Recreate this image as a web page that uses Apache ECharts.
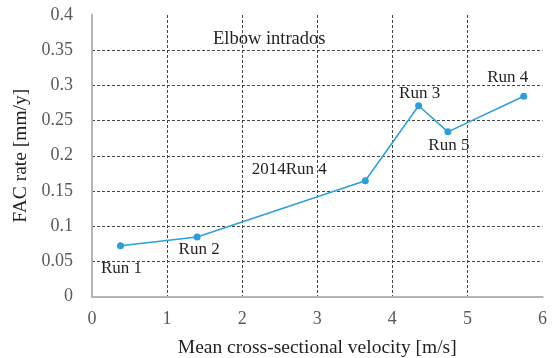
<!DOCTYPE html>
<html>
<head>
<meta charset="utf-8">
<script src="https://cdn.jsdelivr.net/npm/echarts@6/dist/echarts.min.js"></script>
<style>
  html, body { margin: 0; padding: 0; background: #fff; }
  #chart { width: 555px; height: 358px; }
</style>
</head>
<body>
<div id="chart"></div>
<script>
// Mean cross-sectional velocity [m/s] and FAC rate [mm/y] for each run
const velocity = [0.38, 1.40, 3.64, 4.35, 4.74, 5.75];
const facRate = [0.072, 0.0845, 0.1645, 0.271, 0.234, 0.2845];
const runNames = ['Run 1', 'Run 2', '2014Run 4', 'Run 3', 'Run 5', 'Run 4'];

// Where each run name sits relative to its marker (pixels)
const labelOffset = {
  'Run 1': [1, 23],
  'Run 2': [2, 12],
  '2014Run 4': [-76, -11],
  'Run 3': [1, -12],
  'Run 5': [1, 14],
  'Run 4': [-16, -19]
};

const serif = '"Liberation Serif", "DejaVu Serif", serif';
const blue = '#2a9fdb';

const points = velocity.map((v, i) => ({
  value: [v, facRate[i]],
  name: runNames[i],
  label: {
    show: true,
    position: 'inside',
    offset: labelOffset[runNames[i]],
    formatter: runNames[i],
    color: '#231f20',
    fontFamily: serif,
    fontSize: 17
  }
}));

const chart = echarts.init(document.getElementById('chart'), null, { renderer: 'canvas' });

const dashed = { show: true, showMinLine: false, showMaxLine: false,
  lineStyle: { color: '#444', type: [3, 2], width: 1 } };

chart.setOption({
  animation: false,
  grid: { left: 92, right: 12.5, top: 15, bottom: 61.5, containLabel: false, outerBoundsMode: 'none' },
  xAxis: [{
    type: 'value', min: 0, max: 6, interval: 1,
    name: 'Mean cross-sectional velocity [m/s]',
    nameLocation: 'middle', nameGap: 41,
    nameTextStyle: { fontFamily: serif, fontSize: 19.5, color: '#231f20' },
    axisLine: { show: true, onZero: false, lineStyle: { color: '#b4b4b4', width: 2 } },
    axisTick: { show: false },
    axisLabel: { fontFamily: serif, fontSize: 18, color: '#595959', margin: 14 },
    splitLine: dashed,
    z: 3
  }, {
    type: 'value', min: 0, max: 6, interval: 1, position: 'top',
    axisLine: { show: true, lineStyle: { color: '#3a3a3a', width: 1.5 } },
    axisTick: { show: false }, axisLabel: { show: false }, splitLine: { show: false }
  }],
  yAxis: [{
    type: 'value', min: 0, max: 0.4, interval: 0.05,
    name: 'FAC rate [mm/y]',
    nameLocation: 'middle', nameGap: 50,
    nameTextStyle: { fontFamily: serif, fontSize: 19.5, color: '#231f20' },
    axisLine: { show: true, onZero: false, lineStyle: { color: '#b4b4b4', width: 2 } },
    axisTick: { show: false },
    axisLabel: { fontFamily: serif, fontSize: 18, color: '#595959', margin: 19 },
    splitLine: dashed,
    z: 3
  }, {
    type: 'value', min: 0, max: 0.4, interval: 0.05, position: 'right',
    axisLine: { show: true, lineStyle: { color: '#3a3a3a', width: 1.5 } },
    axisTick: { show: false }, axisLabel: { show: false }, splitLine: { show: false }
  }],
  graphic: [{
    type: 'text',
    left: 213, top: 30,
    style: { text: 'Elbow intrados', font: '18.5px ' + serif, fill: '#231f20' }
  }],
  series: [{
    type: 'line',
    data: points,
    symbol: 'circle',
    symbolSize: 7,
    itemStyle: { color: blue },
    lineStyle: { color: blue, width: 1.5 }
  }]
});
</script>
</body>
</html>
